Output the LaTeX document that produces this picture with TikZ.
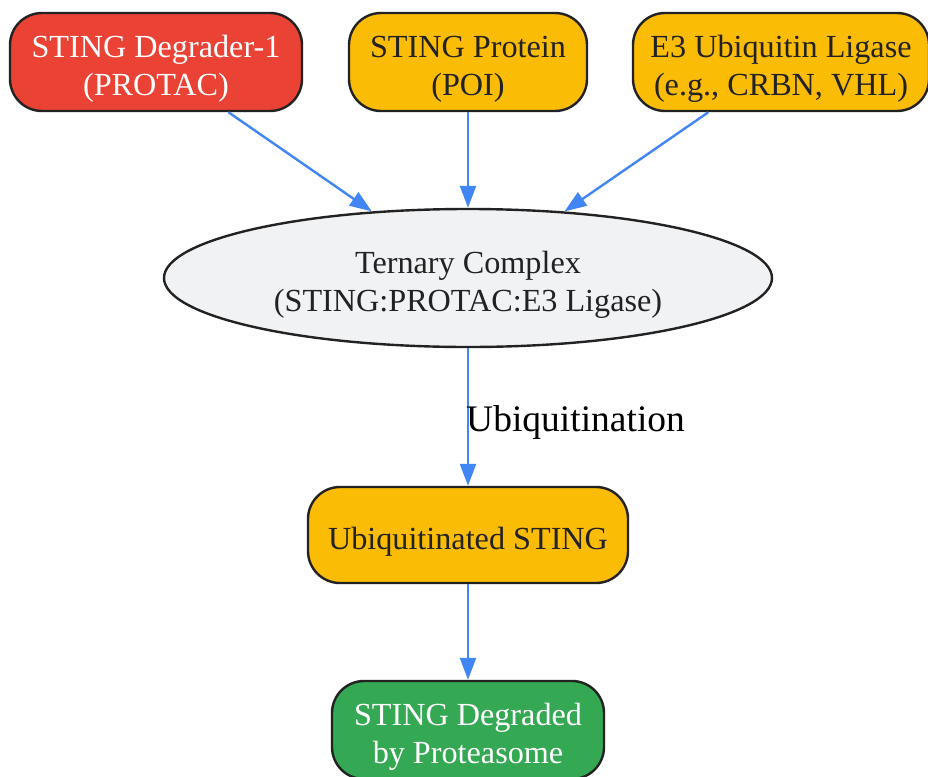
\documentclass[tikz,border=0pt]{standalone}
\usepackage{fontspec}
\setmainfont{Liberation Serif}
\usepackage{xcolor}
\usetikzlibrary{arrows.meta,shapes.geometric}
\definecolor{gred}{HTML}{EA4335}
\definecolor{gyellow}{HTML}{FBBC05}
\definecolor{ggreen}{HTML}{34A853}
\definecolor{gblue}{HTML}{4285F4}
\definecolor{ggray}{HTML}{F1F2F4}
\definecolor{ink}{HTML}{222222}
\tikzset{
	box/.style={
			draw=ink, line width=2.4pt, rounded corners=32pt,
			minimum height=98pt, inner sep=0pt, align=center,
			text height=72pt, text depth=6pt,
			font=\fontsize{32.2}{38}\selectfont
		},
	oneline/.style={text height=35pt, text depth=6pt},
	flow/.style={draw=gblue, line width=2.4pt, -{Triangle[length=22pt,width=16pt]}}
}

\begin{document}
\begin{tikzpicture}[x=1pt,y=-1pt]
			\useasboundingbox (0,0) rectangle (928,776);
			\node[box,fill=gred,text=white,minimum width=292pt] (degrader) at (156,62) {STING Degrader-1\\(PROTAC)};
			\node[box,fill=gyellow,text=ink,minimum width=238pt] (protein) at (468,62) {STING Protein\\(POI)};
			\node[box,fill=gyellow,text=ink,minimum width=296pt] (ligase) at (781,62) {E3 Ubiquitin Ligase\\(e.g., CRBN, VHL)};
			\node[ellipse,draw=ink,line width=2.4pt,fill=ggray,text=ink,inner sep=0pt,
				minimum width=608pt,minimum height=138pt,align=center,
				text height=72pt,text depth=6pt,
				font=\fontsize{32.2}{38}\selectfont] (ternary) at (468,278) {Ternary Complex\\(STING:PROTAC:E3 Ligase)};
			\node[box,oneline,fill=gyellow,text=ink,minimum width=320pt,minimum height=96pt] (ubstring) at (468,535) {Ubiquitinated STING};
			\node[box,fill=ggreen,text=white,minimum width=272pt] (degraded) at (468,730) {STING Degraded\\by Proteasome};
			\draw[flow] (degrader) -- (ternary);
			\draw[flow] (protein) -- (ternary);
			\draw[flow] (ligase) -- (ternary);
			\draw[flow] (ternary) -- (ubstring)
			node[midway,anchor=west,inner sep=0pt,xshift=-3pt,yshift=-5pt,text=black,font=\fontsize{37.5}{40}\selectfont]{Ubiquitination};
			\draw[flow] (ubstring) -- (degraded);
		\end{tikzpicture}
\end{document}
